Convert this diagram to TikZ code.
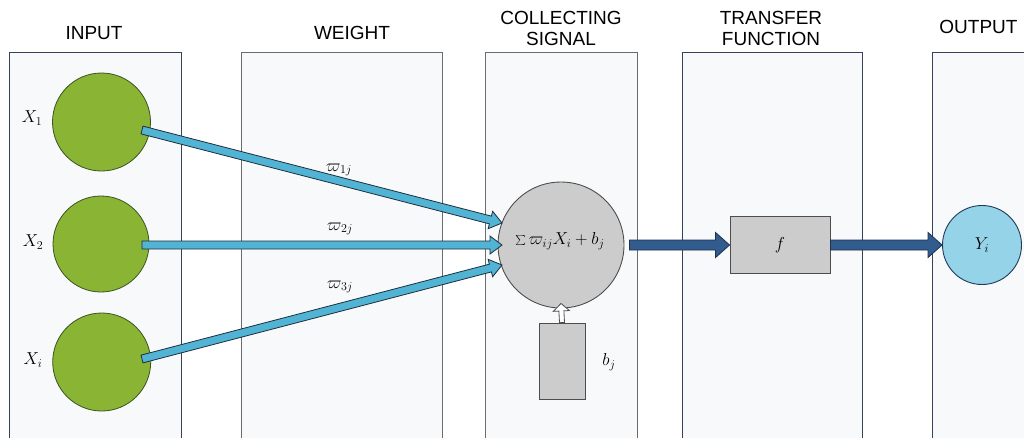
\documentclass[tikz,border=0pt]{standalone}
\usepackage{fontspec}
\setsansfont{Liberation Sans}
\usetikzlibrary{calc}
\definecolor{panelfill}{HTML}{F8F9FA}
\definecolor{panelgray}{HTML}{6B6B6B}
\definecolor{panelnavy}{HTML}{34425A}
\definecolor{greenfill}{HTML}{8AB434}
\definecolor{greendraw}{HTML}{3B5323}
\definecolor{grayfill}{HTML}{CCCCCC}
\definecolor{graydraw}{HTML}{4D4D4D}
\definecolor{lbfill}{HTML}{52B4D4}
\definecolor{lbdraw}{HTML}{1E2E3E}
\definecolor{dbfill}{HTML}{335C8E}
\definecolor{dbdraw}{HTML}{1C3250}
\definecolor{yfill}{HTML}{95D3E9}
\definecolor{ydraw}{HTML}{1F3A5A}

\newcommand{\fatarrow}[6]{%
  \coordinate (FAs) at (#1);
  \coordinate (FAe) at (#2);
  \coordinate (FAh) at ($(FAe)!#5!(FAs)$);
  \draw[#6] ($(FAs)!#3!90:(FAe)$) -- ($(FAh)!#3!-90:(FAs)$) -- ($(FAh)!#4!-90:(FAs)$) -- (FAe) -- ($(FAh)!#4!90:(FAs)$) -- ($(FAh)!#3!90:(FAs)$) -- ($(FAs)!#3!-90:(FAe)$) -- cycle;
}

\begin{document}
\begin{tikzpicture}[x=1pt,y=-1pt,
  panel/.style={fill=panelfill,line width=0.9pt},
  header/.style={font=\sffamily\fontsize{19}{20.5}\selectfont,align=center,inner sep=0pt},
  inputnode/.style={circle,fill=greenfill,draw=greendraw,line width=0.8pt,minimum size=98pt,inner sep=0pt},
  lab/.style={font=\fontsize{17}{20}\selectfont,inner sep=0pt},
  lightarrow/.style={fill=lbfill,draw=lbdraw,line width=0.8pt,line join=miter},
  darkarrow/.style={fill=dbfill,draw=dbdraw,line width=0.8pt,line join=miter},
  biasarrow/.style={fill=white,draw=graydraw,line width=0.8pt,line join=miter},
  graybox/.style={rectangle,fill=grayfill,draw=graydraw,line width=0.9pt,inner sep=0pt}
]
\clip (0,0) rectangle (1024,437);
\fill[white] (0,0) rectangle (1024,437);

% panels
\draw[panel,draw=panelnavy] (9.5,52) rectangle (181.5,450);
\draw[panel,draw=panelgray] (241.5,52) rectangle (442,450);
\draw[panel,draw=panelgray] (485,52) rectangle (637.5,450);
\draw[panel,draw=panelnavy] (682.5,52) rectangle (862,450);
\draw[panel,draw=panelnavy] (932.5,52) rectangle (1040,450);

% headers
\node[header] (hin) at (94,33) {INPUT};
\node[header] (hw) at (352,33) {WEIGHT};
\node[header] (hcs) at (561,28.5) {COLLECTING\\SIGNAL};
\node[header] (htf) at (771,28.5) {TRANSFER\\FUNCTION};
\node[header] (hout) at (978.5,27) {OUTPUT};

% inputs
\node[inputnode] (x1) at (101.5,122) {};
\node[inputnode,minimum size=96pt] (x2) at (101,244) {};
\node[inputnode] (xi) at (101.7,362) {};
\node[lab] (lx1) at (32,118) {$X_1$};
\node[lab] (lx2) at (33,242) {$X_2$};
\node[lab] (lxi) at (33,360) {$X_i$};

% collecting
\node[circle,fill=grayfill,draw=graydraw,line width=0.9pt,minimum size=126pt,inner sep=0pt] (sum) at (561,245) {};
\node[lab] (sumlab) at (560,241) {$\sum \varpi_{ij} X_i + b_j$};
\node[graybox,minimum width=46pt,minimum height=76pt] (bias) at (562,361) {};
\node[lab] (blab) at (609,362) {$b_j$};

% transfer and output
\node[graybox,minimum width=100pt,minimum height=57pt,font=\fontsize{17}{20}\selectfont] (fbox) at (780,245) {$f$};
\node[circle,fill=yfill,draw=ydraw,line width=0.9pt,minimum size=79pt,inner sep=0pt,font=\fontsize{17}{20}\selectfont] (y) at (982,245) {$Y_i$};

% weight labels
\node[lab] (w1) at (339,170) {$\varpi_{1j}$};
\node[lab] (w2) at (340,229) {$\varpi_{2j}$};
\node[lab] (w3) at (340,287) {$\varpi_{3j}$};

% connector end points
\coordinate (a1s) at ($(x1.center)+(40.5,8)$);
\coordinate (a2s) at ($(x2.center)+(41,1)$);
\coordinate (a3s) at ($(xi.center)+(40.3,-3)$);
\coordinate (a1e) at ($(sum.center)+(-59,-22)$);
\coordinate (a2e) at ($(sum.center)+(-59,0)$);
\coordinate (a3e) at ($(sum.center)+(-59,20)$);
\coordinate (d1s) at ($(sum.east)+(5,0)$);
\coordinate (bt) at ($(sum.south)+(0,-5)$);

\fatarrow{a1s}{a1e}{4pt}{9pt}{12pt}{lightarrow}
\fatarrow{a2s}{a2e}{4pt}{9pt}{12pt}{lightarrow}
\fatarrow{a3s}{a3e}{4pt}{9pt}{12pt}{lightarrow}
\fatarrow{d1s}{fbox.west}{5pt}{12.5pt}{14pt}{darkarrow}
\fatarrow{fbox.east}{y.west}{5pt}{12.5pt}{14pt}{darkarrow}
\fatarrow{bias.north}{bt}{2.5pt}{8pt}{7.5pt}{biasarrow}
\end{tikzpicture}
\end{document}
